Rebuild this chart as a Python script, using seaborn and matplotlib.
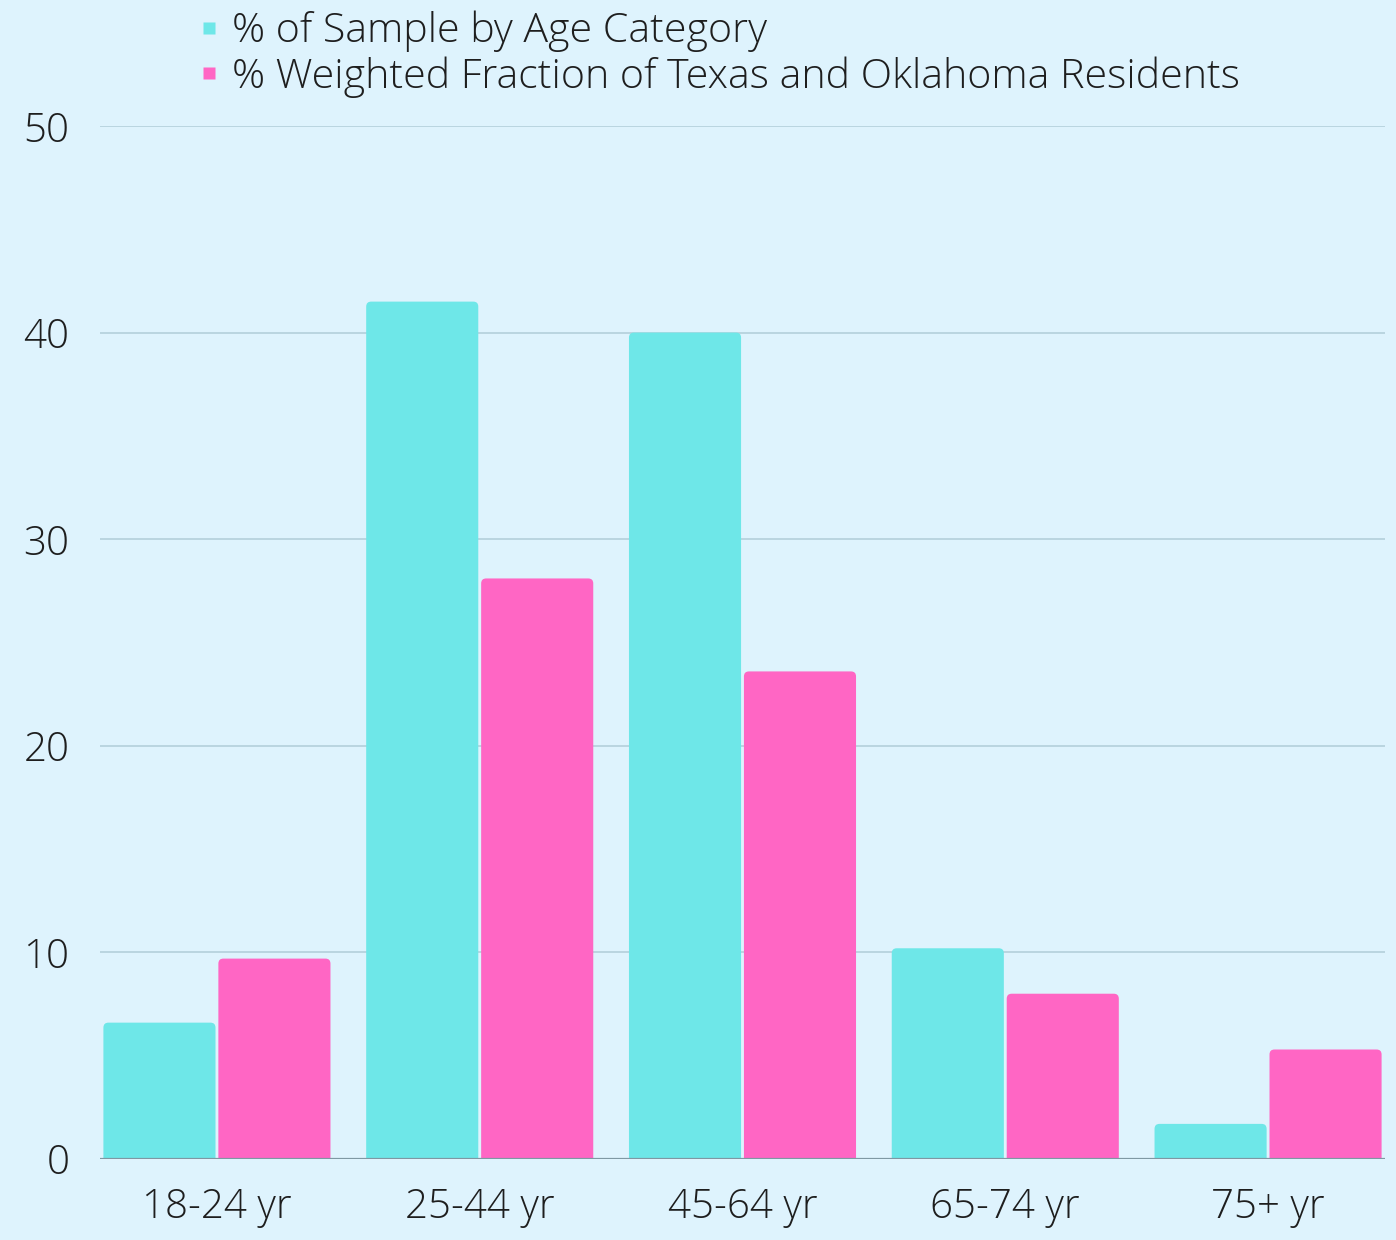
import matplotlib
matplotlib.use("Agg")
import matplotlib.pyplot as plt
import seaborn as sns
import pandas as pd
from matplotlib.patches import FancyBboxPatch
from matplotlib.lines import Line2D

categories = ["18-24 yr", "25-44 yr", "45-64 yr", "65-74 yr", "75+ yr"]
series_names = ["% of Sample by Age Category",
                "% Weighted Fraction of Texas and Oklahoma Residents"]
sample_pct = [6.6, 41.5, 40.0, 10.2, 1.7]
weighted_pct = [9.7, 28.1, 23.6, 8.0, 5.3]
y_ticks = [0, 10, 20, 30, 40, 50]

colors = ["#6EE7E8", "#FF66C4"]
bg = "#DEF3FD"
txt = "#1E1E1E"

df = pd.DataFrame({
    "cat": categories * 2,
    "val": sample_pct + weighted_pct,
    "series": [series_names[0]] * 5 + [series_names[1]] * 5,
})

sns.set_theme(style="white")
plt.rcParams['font.family'] = ['Open Sans', 'DejaVu Sans']
plt.rcParams['font.weight'] = 'light'

fig = plt.figure(figsize=(13.96, 12.4), dpi=100, facecolor=bg)
ax = fig.add_axes([100/1396, 1 - 1159/1240, 1285/1396, (1159-126)/1240])
ax.set_facecolor(bg)

sns.barplot(data=df, x="cat", y="val", hue="series", palette=colors,
            width=0.875, gap=0.025, ax=ax, legend=False, saturation=1,
            linewidth=0, zorder=3)

# rounded top corners
px_x = 1285 / 4.89
px_y = 1033 / 50
r_px = 5
r_x = r_px / px_x
aspect = (r_px / px_y) / r_x
patches = list(ax.patches)
for p in patches:
    x0, y0 = p.get_x(), p.get_y()
    w, h = p.get_width(), p.get_height()
    fc = p.get_facecolor()
    p.remove()
    fb = FancyBboxPatch((x0, -1), w, h + 1,
                        boxstyle=f"round,pad=0,rounding_size={r_x}",
                        mutation_aspect=aspect, facecolor=fc,
                        edgecolor="none", zorder=3)
    ax.add_patch(fb)

ax.set_xlim(-0.445, 4.445)
ax.set_ylim(0, 50)
ax.set_yticks(y_ticks)
ax.set_yticklabels([str(t) for t in y_ticks])
ax.yaxis.grid(True, color="#B7D2DD", linewidth=1.3, zorder=0)
ax.axhline(0, color="#7F98A3", linewidth=1.6, zorder=4)
for s in ax.spines.values():
    s.set_visible(False)
ax.tick_params(axis="both", length=0, labelsize=29, colors=txt)
ax.tick_params(axis="y", pad=22)
ax.tick_params(axis="x", pad=20)
ax.set_xlabel("")
ax.set_ylabel("")

handles = [Line2D([0], [0], marker="s", linestyle="none", markersize=9,
                  markerfacecolor=c, markeredgecolor="none") for c in colors]
fig.legend(handles, series_names, loc="upper left",
           bbox_to_anchor=(176/1396, 1 + 10/1240), frameon=False,
           fontsize=29.6, handlelength=0.6, handletextpad=0.25,
           labelspacing=0.1, borderpad=0, labelcolor=txt)

fig.savefig("out.png", dpi=100, facecolor=bg)
